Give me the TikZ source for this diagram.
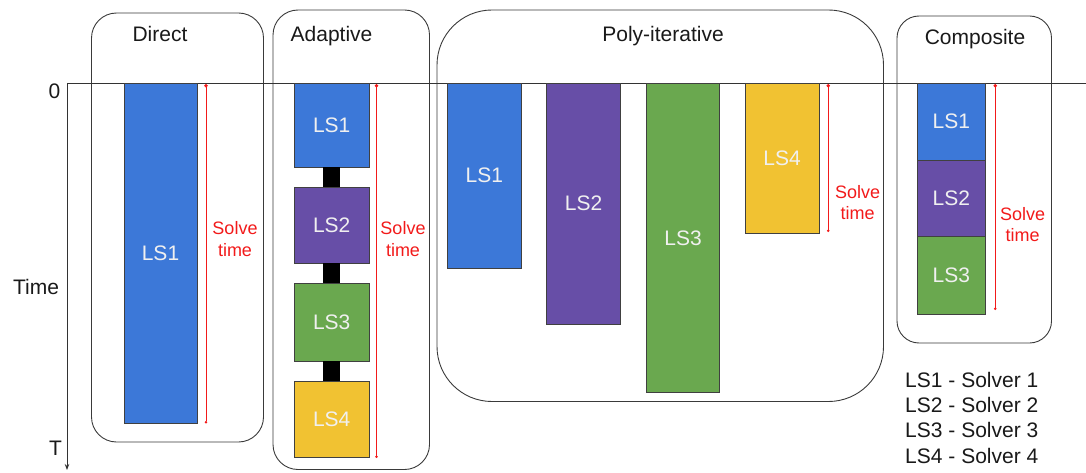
\documentclass[tikz,border=0pt]{standalone}
\usepackage{fontspec}
\setmainfont{Liberation Sans}
\usetikzlibrary{arrows.meta}

\definecolor{lsblue}{HTML}{3C78D8}
\definecolor{lspurple}{HTML}{674EA7}
\definecolor{lsgreen}{HTML}{6AA84F}
\definecolor{lsyellow}{HTML}{F1C232}
\definecolor{solvered}{HTML}{F21A1A}
\definecolor{edgegray}{HTML}{3A3A3A}

\begin{document}
\begin{tikzpicture}[x=1pt,y=-1pt,
  group/.style={draw=edgegray, line width=0.9pt, rounded corners=#1, inner sep=0pt},
  group/.default=25pt,
  title/.style={anchor=base, font=\fontsize{21}{25}\selectfont, text=black!90},
  bar/.style={draw=black!75, line width=0.8pt, inner sep=0pt, text=white!94!black,
    font=\fontsize{21}{25}\selectfont},
  link/.style={line width=17pt, black},
  axisline/.style={draw=black!80, line width=0.9pt},
  solvearrow/.style={draw=solvered, line width=0.8pt,
    {Circle[length=3.5pt]}-{Circle[length=2.5pt]}},
  solvelabel/.style={anchor=base, text=solvered, font=\fontsize{18}{22}\selectfont},
  axislabel/.style={font=\fontsize{21}{25}\selectfont, text=black!90},
  legend/.style={anchor=base west, font=\fontsize{21}{25}\selectfont, text=black!90}]

\useasboundingbox (0,0) rectangle (1086,473);

% strategy frames
\node[group, minimum width=172pt, minimum height=429pt] (direct) at (177.5,227.5) {};
\node[group, minimum width=156.5pt, minimum height=459.5pt] (adaptive) at (351.25,239.75) {};
\node[group=55pt, minimum width=446.5pt, minimum height=391.5pt] (poly) at (660.25,205.75) {};
\node[group=22pt, minimum width=154.5pt, minimum height=327pt] (composite) at (974.25,179.5) {};

\node[title] (tdirect) at (160,42) {Direct};
\node[title] (tadaptive) at (331.5,42) {Adaptive};
\node[title] (tpoly) at (663,41.7) {Poly-iterative};
\node[title] (tcomposite) at (975,45) {Composite};

% time axis
\coordinate (origin) at (67,83);
\coordinate (tend) at (67,470);
\coordinate (xend) at (1086,83);
\draw[axisline, -{Stealth[length=6pt,width=4.5pt]}] (origin) -- (tend);
\draw[axisline] (origin) -- (xend);
\node[axislabel] (zero) at (54.5,91) {0};
\node[axislabel] (timelabel) at (36,287) {Time};
\node[axislabel] (tlabel) at (55.5,448.5) {T};

% direct
\node[bar, fill=lsblue, minimum width=73pt, minimum height=340.5pt] (d1) at (160.5,253.25) {LS1};

% adaptive
\node[bar, fill=lsblue, minimum width=74.7pt, minimum height=84pt] (a1) at (331.7,125) {LS1};
\node[bar, fill=lspurple, minimum width=74.7pt, minimum height=76pt] (a2) at (331.7,225) {LS2};
\node[bar, fill=lsgreen, minimum width=74.7pt, minimum height=78pt] (a3) at (331.7,322) {LS3};
\node[bar, fill=lsyellow, minimum width=74.7pt, minimum height=76.5pt] (a4) at (331.7,419.25) {LS4};
\draw[link] (a1.south) -- (a2.north);
\draw[link] (a2.south) -- (a3.north);
\draw[link] (a3.south) -- (a4.north);

% poly-iterative
\node[bar, fill=lsblue, minimum width=73.5pt, minimum height=185.3pt] (p1) at (484.25,175.65) {LS1};
\node[bar, fill=lspurple, minimum width=74.4pt, minimum height=241pt] (p2) at (583.5,203.5) {LS2};
\node[bar, fill=lsgreen, minimum width=72.8pt, minimum height=309.7pt] (p3) at (683.1,237.85) {LS3};
\node[bar, fill=lsyellow, minimum width=74.3pt, minimum height=150.3pt] (p4) at (782.15,158.15) {LS4};

% composite
\node[bar, fill=lsblue, minimum width=68pt, minimum height=77pt] (c1) at (951.3,121.5) {LS1};
\node[bar, fill=lspurple, minimum width=68pt, minimum height=76.7pt] (c2) at (951.3,198.35) {LS2};
\node[bar, fill=lsgreen, minimum width=68pt, minimum height=78pt] (c3) at (951.3,275.7) {LS3};

% solve time markers
\coordinate (dtop) at (206,84);
\coordinate (dbot) at (206,423.5);
\coordinate (atop) at (376.5,84);
\coordinate (abot) at (376.5,458);
\coordinate (ptop) at (828.3,84);
\coordinate (pbot) at (828.3,232);
\coordinate (ctop) at (995.3,84);
\coordinate (cbot) at (995.3,310);
\draw[solvearrow] (dtop) -- (dbot);
\draw[solvearrow] (atop) -- (abot);
\draw[solvearrow] (ptop) -- (pbot);
\draw[solvearrow] (ctop) -- (cbot);

\node[solvelabel] (ds) at (235,234.3) {Solve};
\node[solvelabel] (dt) at (235,256) {time};
\node[solvelabel] (as) at (403,234.3) {Solve};
\node[solvelabel] (at) at (403,256) {time};
\node[solvelabel] (ps) at (857.7,198.3) {Solve};
\node[solvelabel] (pt) at (857.7,219.8) {time};
\node[solvelabel] (cs) at (1022.7,220) {Solve};
\node[solvelabel] (ct) at (1022.7,241.7) {time};

% legend
\node[legend] (l1) at (901.7,387.3) {LS1 - Solver 1};
\node[legend] (l2) at (901.7,412.6) {LS2 - Solver 2};
\node[legend] (l3) at (901.7,437.9) {LS3 - Solver 3};
\node[legend] (l4) at (901.7,463.2) {LS4 - Solver 4};
\end{tikzpicture}
\end{document}
